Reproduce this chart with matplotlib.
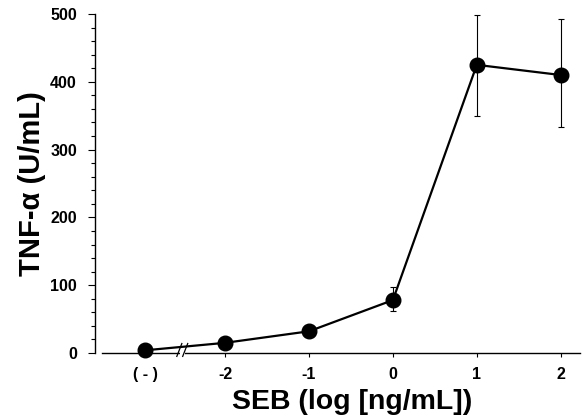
import matplotlib
matplotlib.use("Agg")
import matplotlib.pyplot as plt
from matplotlib.ticker import MultipleLocator

plt.rcParams['font.family'] = ['Liberation Sans', 'DejaVu Sans']

# SEB dose (log ng/mL), "(-)" is the no-SEB control placed left of the axis break
seb_pos = [-2.95, -2, -1, 0, 1, 2]
seb_labels = ["( - )", "-2", "-1", "0", "1", "2"]
tnf = [4, 15, 32, 78, 425, 410]
err_low = [0, 0, 0, 16, 75, 77]
err_high = [0, 0, 0, 19, 74, 83]
break_x = -2.51

fig = plt.figure(figsize=(5.83, 4.19), dpi=100)
ax = fig.add_axes([95 / 583, 66 / 419, 485 / 583, 339 / 419])

ax.errorbar(seb_pos, tnf, yerr=[err_low, err_high], fmt='none', ecolor='black',
            elinewidth=0.8, capsize=2.5, capthick=0.8, zorder=3, clip_on=False)
ax.plot(seb_pos, tnf, color='black', lw=1.6, marker='o', markersize=10.5,
        zorder=4, clip_on=False)

ax.set_xlim(-3.55, 2.23)
ax.set_ylim(0, 500)
ax.spines['top'].set_visible(False)
ax.spines['right'].set_visible(False)
ax.spines['bottom'].set_bounds(-3.47, 2.23)
ax.spines['left'].set_linewidth(1.0)
ax.spines['bottom'].set_linewidth(1.0)

ax.set_xticks(seb_pos)
ax.set_xticklabels(seb_labels, fontsize=11.5, fontweight='bold')
ax.yaxis.set_major_locator(MultipleLocator(100))
ax.yaxis.set_minor_locator(MultipleLocator(20))
for lab in ax.get_yticklabels():
    lab.set_fontsize(11.5)
    lab.set_fontweight('bold')
ax.tick_params(axis='x', direction='out', length=3, width=0.8, pad=7)
ax.tick_params(axis='y', which='major', direction='out', length=5, width=0.8, pad=8)
ax.tick_params(axis='y', which='minor', direction='out', length=3, width=0.8)

# axis break marks //
ax.plot([break_x - 0.03, break_x + 0.03], [0, 0], color='white', lw=3,
        zorder=3, clip_on=False, solid_capstyle='butt')
for dx in (-0.035, 0.035):
    ax.plot([break_x + dx - 0.03, break_x + dx + 0.03], [-5, 14], color='black',
            lw=0.9, zorder=3, clip_on=False)

ax.set_xlabel("SEB (log [ng/mL])", fontsize=20.5, fontweight='bold')
ax.xaxis.set_label_coords((352 - 95) / 485, -0.105)
ax.set_ylabel("TNF-α (U/mL)", fontsize=21, fontweight='bold')
ax.yaxis.set_label_coords(-0.1, 0.5)

fig.savefig("out.png", dpi=100)
